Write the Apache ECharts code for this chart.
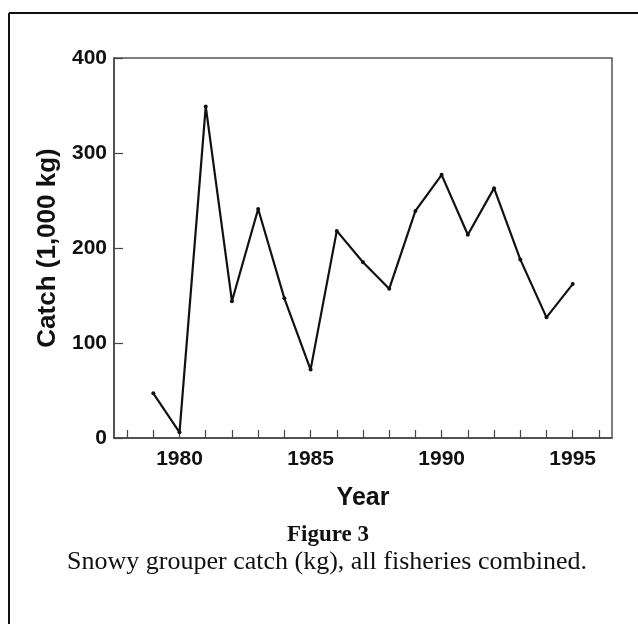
<!DOCTYPE html>
<html>
<head>
<meta charset="utf-8">
<script src="https://cdn.jsdelivr.net/npm/echarts@6/dist/echarts.min.js"></script>
<style>
html,body{margin:0;padding:0;background:#fff;}
#chart{width:638px;height:624px;}
</style>
</head>
<body>
<div id="chart"></div>
<script>
// Data
var years = [1979, 1980, 1981, 1982, 1983, 1984, 1985, 1986, 1987, 1988, 1989, 1990, 1991, 1992, 1993, 1994, 1995];
var catchValues = [47, 6, 349, 144, 241, 147, 72, 218, 185, 157, 239, 277, 214, 263, 188, 127, 162];
var xTickYears = [1978, 1979, 1980, 1981, 1982, 1983, 1984, 1985, 1986, 1987, 1988, 1989, 1990, 1991, 1992, 1993, 1994, 1995, 1996];
var xLabelYears = [1980, 1985, 1990, 1995];

var seriesData = years.map(function (y, i) { return [y, catchValues[i]]; });

var chart = echarts.init(document.getElementById('chart'), null, {renderer: 'canvas'});
var sans = '"Liberation Sans", Arial, Helvetica, sans-serif';
var serif = '"Liberation Serif", "Times New Roman", serif';

chart.setOption({
  animation: false,
  backgroundColor: '#fff',
  grid: {
    left: 114, top: 58, width: 498, height: 380,
    show: true, borderColor: '#555', borderWidth: 1.5, backgroundColor: 'transparent'
  },
  xAxis: {
    type: 'value',
    min: 1977.5, max: 1996.5,
    name: 'Year',
    nameLocation: 'middle',
    nameGap: 48,
    nameTextStyle: {fontFamily: sans, fontWeight: 'bold', fontSize: 25, color: '#111'},
    axisLine: {show: true, lineStyle: {color: '#444', width: 1.5}},
    axisTick: {show: true, inside: true, length: 8, customValues: xTickYears, lineStyle: {color: '#444', width: 1.2}},
    axisLabel: {show: true, customValues: xLabelYears, margin: 11, fontFamily: sans, fontWeight: 'bold', fontSize: 21, color: '#111',
      formatter: function (v) { return String(v); }},
    splitLine: {show: false}
  },
  yAxis: {
    type: 'value',
    min: 0, max: 400, interval: 100,
    name: 'Catch (1,000 kg)',
    nameLocation: 'middle',
    nameGap: 50,
    nameTextStyle: {fontFamily: sans, fontWeight: 'bold', fontSize: 26, color: '#111'},
    axisLine: {show: true, lineStyle: {color: '#444', width: 1.5}},
    axisTick: {show: true, inside: true, length: 9, lineStyle: {color: '#444', width: 1.2}},
    axisLabel: {show: true, margin: 7, fontFamily: sans, fontWeight: 'bold', fontSize: 21, color: '#111'},
    splitLine: {show: false}
  },
  series: [{
    type: 'line',
    data: seriesData,
    symbol: 'circle',
    symbolSize: 4,
    lineStyle: {color: '#111', width: 2.2},
    itemStyle: {color: '#111'}
  }],
  graphic: [
    {type: 'line', shape: {x1: 9, y1: 13, x2: 638, y2: 13}, style: {stroke: '#111', lineWidth: 2}},
    {type: 'line', shape: {x1: 9, y1: 13, x2: 9, y2: 624}, style: {stroke: '#111', lineWidth: 2}},
    {type: 'text', x: 328, y: 535,
      style: {text: 'Figure 3', fontFamily: serif, fontWeight: 'bold', fontSize: 23, fill: '#111',
        textAlign: 'center', textVerticalAlign: 'middle', verticalAlign: 'middle', align: 'center'}},
    {type: 'text', x: 327, y: 562,
      style: {text: 'Snowy grouper catch (kg), all fisheries combined.', fontFamily: serif, fontSize: 26, fill: '#111',
        textAlign: 'center', textVerticalAlign: 'middle', verticalAlign: 'middle', align: 'center'}}
  ]
});
</script>
</body>
</html>
